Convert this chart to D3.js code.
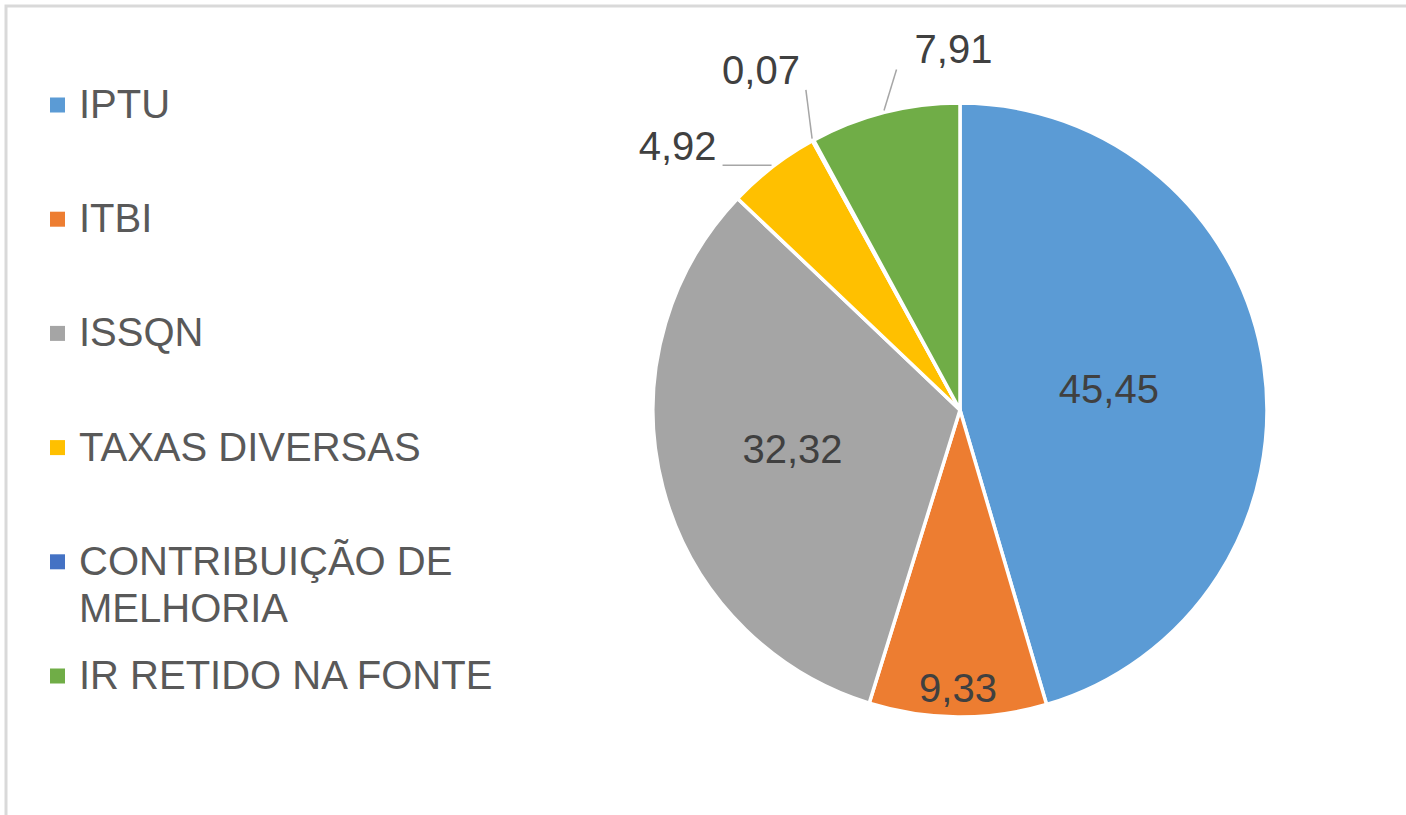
<html><head>
<meta charset="utf-8">
<script src="https://d3js.org/d3.v7.min.js"></script>
<style>
  body { margin: 0; background: #fff; }
  text { font-family: "Liberation Sans", Arial, sans-serif; }
  .legend text { fill: #595959; font-size: 40px; }
  .label { fill: #404040; font-size: 40px; }
</style>
</head>
<body>
<svg id="chart" width="1406" height="815"></svg>
<script>

  // Data (percent shares of own revenue)
  const categories = ["IPTU", "ITBI", "ISSQN", "TAXAS DIVERSAS", "CONTRIBUIÇÃO DE MELHORIA", "IR RETIDO NA FONTE"];
  const values = [45.45, 9.33, 32.32, 4.92, 0.07, 7.91];
  const valueLabels = ["45,45", "9,33", "32,32", "4,92", "0,07", "7,91"];
  const legendLines = [["IPTU"], ["ITBI"], ["ISSQN"], ["TAXAS DIVERSAS"], ["CONTRIBUIÇÃO DE", "MELHORIA"], ["IR RETIDO NA FONTE"]];
  const colors = ["#5B9BD5", "#ED7D31", "#A5A5A5", "#FFC000", "#4472C4", "#70AD47"];

  const svg = d3.select("#chart");
  const cx = 960, cy = 410, radius = 307;

  // chart frame (only top and left edges fall inside the picture)
  svg.append("rect")
    .attr("x", 6).attr("y", 6)
    .attr("width", 1500).attr("height", 900)
    .attr("fill", "none")
    .attr("stroke", "#d9d9d9")
    .attr("stroke-width", 3);

  const color = d3.scaleOrdinal().domain(categories).range(colors);

  // Pie, clockwise from 12 o'clock like Excel
  const pie = d3.pie().sort(null).value(d => d.value);
  const arcs = pie(categories.map((c, i) => ({ name: c, value: values[i], label: valueLabels[i] })));
  const arc = d3.arc().innerRadius(0).outerRadius(radius);

  const g = svg.append("g").attr("transform", "translate(" + cx + "," + cy + ")");

  g.selectAll("path.slice").data(arcs)
    .join("path")
    .attr("class", "slice")
    .attr("d", arc)
    .attr("fill", d => color(d.data.name))
    .attr("stroke", "#fff")
    .attr("stroke-width", 3.5);

  // where Excel's "best fit" put each label: radius factor and angle shift (degrees)
  const labelPlace = [
    { r: 0.49, da: 0 },
    { r: 0.905, da: 0 },
    { r: 0.56, da: 1.5 },
    { r: 1.26, da: -9.3 },
    { r: 1.285, da: -1.7 },
    { r: 1.176, da: 13.2 }
  ];

  const polar = (angle, r) => [r * Math.sin(angle), -r * Math.cos(angle)];
  const midAngle = d => (d.startAngle + d.endAngle) / 2;

  const labels = g.selectAll("text.label").data(arcs)
    .join("text")
    .attr("class", "label")
    .attr("text-anchor", "middle")
    .attr("dy", "0.36em")
    .each(function(d, i) {
      const p = labelPlace[i];
      const pos = polar(midAngle(d) + p.da * Math.PI / 180, p.r * radius);
      d3.select(this).attr("x", pos[0]).attr("y", pos[1]);
    })
    .text(d => d.data.label);

  // leader lines for the labels sitting outside the pie
  labels.each(function(d, i) {
    if (labelPlace[i].r <= 1) return;
    const b = this.getBBox();
    const end = polar(midAngle(d), radius + 2);
    const sx = Math.max(b.x - 18, Math.min(end[0], b.x + b.width + 6));
    const sy = Math.max(b.y + 1, Math.min(end[1], b.y + b.height - 2));
    g.append("line")
      .attr("x1", sx).attr("y1", sy)
      .attr("x2", end[0]).attr("y2", end[1])
      .attr("stroke", "#a6a6a6")
      .attr("stroke-width", 1.5);
  });

  // Legend
  const legendY = d3.scalePoint().domain(categories).range([105, 676]);
  const legend = svg.append("g").attr("class", "legend");

  const item = legend.selectAll("g").data(categories)
    .join("g")
    .attr("transform", d => "translate(50," + legendY(d) + ")");

  item.append("rect")
    .attr("x", 0).attr("y", -7.5)
    .attr("width", 15).attr("height", 15)
    .attr("fill", d => color(d));

  item.append("text")
    .attr("x", 29)
    .attr("y", 13)
    .selectAll("tspan").data((d, i) => legendLines[i])
    .join("tspan")
    .attr("x", 29)
    .attr("dy", (d, j) => j === 0 ? 0 : 47)
    .text(d => d);

</script>
</body>
</html>
